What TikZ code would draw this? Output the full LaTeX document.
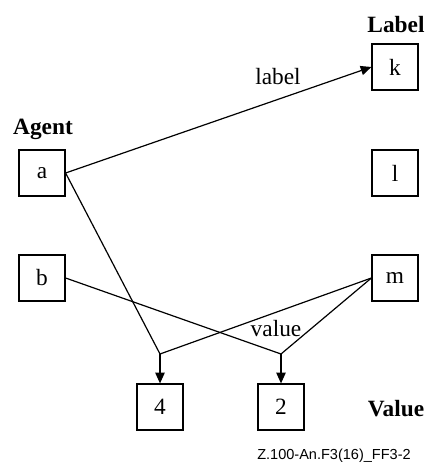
\documentclass[tikz,border=0pt]{standalone}
\usepackage{fontspec}
\setmainfont{Liberation Serif}
\setsansfont{Liberation Sans}
\usetikzlibrary{arrows.meta}

\begin{document}
\begin{tikzpicture}[x=0.75pt,y=-0.75pt,>={Triangle[length=8pt,width=7pt]},
  line width=0.9pt,font=\fontsize{17.5}{20}\selectfont,
  box node/.style={rectangle,draw,line width=0.9pt,minimum size=34.5pt,inner sep=0pt},
  head node/.style={font=\fontsize{17.5}{20}\selectfont\bfseries}]

  \useasboundingbox (0,0) rectangle (424,466);

  \node[box node] (a) at (42,173) {a};
  \node[box node] (b) at (42,278) {b};
  \node[box node] (k) at (395,67) {k};
  \node[box node] (l) at (395,173) {l};
  \node[box node] (m) at (395,278) {m};
  \node[box node] (v4) at (160,407) {4};
  \node[box node] (v2) at (281,407) {2};
  \coordinate (j4) at (160,354);
  \coordinate (j2) at (281,354);

  \node[head node] (agent) at (43,129) {Agent};
  \node[head node] (labelhead) at (396,25) {Label};
  \node[head node] (valuehead) at (396,409) {Value};
  \node (labeltxt) at (278,77) {label};
  \node (valuetxt) at (276,329) {value};
  \node[font=\sffamily\fontsize{10.9}{13}\selectfont] (ref) at (334,456) {Z.100-An.F3(16)\_FF3-2};

  \draw[->] (a.east) -- (k.west);
  \draw (a.east) -- (j4);
  \draw (m.west) -- (j4);
  \draw (b.east) -- (j2);
  \draw (m.west) -- (j2);
  \draw[->] (j4) -- (v4);
  \draw[->] (j2) -- (v2);

\end{tikzpicture}
\end{document}
